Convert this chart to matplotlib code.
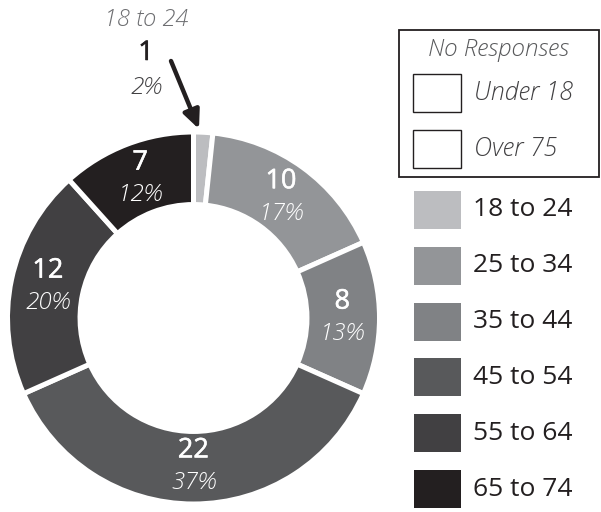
import numpy as np
import matplotlib
matplotlib.use("Agg")
import matplotlib.pyplot as plt
from matplotlib.patches import Rectangle
import matplotlib.patheffects as pe

plt.rcParams['font.family'] = ['Open Sans', 'DejaVu Sans']

categories = ["18 to 24", "25 to 34", "35 to 44", "45 to 54", "55 to 64", "65 to 74"]
counts = [1, 10, 8, 22, 12, 7]
percents = ["2%", "17%", "13%", "37%", "20%", "12%"]
no_response = ["Under 18", "Over 75"]
colors = ["#bcbdc0", "#939598", "#808285", "#58595b", "#414042", "#231f20"]

W, H = 601, 512
fig = plt.figure(figsize=(W / 100, H / 100), dpi=100)

cx, cy, R = 193.5, 318, 186
ax = fig.add_axes([(cx - R) / W, (H - cy - R) / H, 2 * R / W, 2 * R / H])
wedges, _ = ax.pie(counts, colors=colors, startangle=90, counterclock=False,
                   radius=1, wedgeprops=dict(width=0.39, edgecolor='white', linewidth=3.6))
ax.set_xlim(-1, 1)
ax.set_ylim(-1, 1)
ax.axis('off')

total = sum(counts)
cum = np.cumsum([0] + counts)
r_lab = 0.80
dy = 0.088
for i in range(1, len(counts)):
    mid = (cum[i] + cum[i + 1]) / 2 / total * 2 * np.pi
    x, y = r_lab * np.sin(mid), r_lab * np.cos(mid)
    ax.text(x, y + dy, str(counts[i]), color='white', fontsize=19.5, fontweight='normal',
            ha='center', va='center',
            path_effects=[pe.withStroke(linewidth=0.4, foreground='white')])
    ax.text(x, y - dy, percents[i], color='white', fontsize=17.5, style='italic',
            fontweight='light', ha='center', va='center')

# overlay in pixel coordinates
ov = fig.add_axes([0, 0, 1, 1], zorder=5)
ov.set_xlim(0, W)
ov.set_ylim(H, 0)
ov.axis('off')

# annotation for the tiny slice
ov.text(146, 20, categories[0], color='#6d6e71', fontsize=17, style='italic', fontweight='light',
        ha='center', va='center')
ov.text(146, 53, str(counts[0]), color='#231f20', fontsize=19.5, fontweight='normal', ha='center',
        va='center', path_effects=[pe.withStroke(linewidth=0.4, foreground='#231f20')])
ov.text(146, 88, percents[0], color='#414042', fontsize=17.5, style='italic', fontweight='light',
        ha='center', va='center')
ov.annotate('', xy=(199, 129), xytext=(171, 61),
            arrowprops=dict(arrowstyle='-|>,head_length=1.1,head_width=0.5', color='#231f20',
                            lw=3.2, shrinkA=0, shrinkB=0))

# No responses box
ov.add_patch(Rectangle((399, 30), 200, 147, fill=False, edgecolor='#231f20', lw=1.3))
ov.text(498, 50, "No Responses", color='#58595b', fontsize=17.5, style='italic', fontweight='light',
        ha='center', va='center')
for j, lab in enumerate(no_response):
    y0 = 74 + j * 56
    ov.add_patch(Rectangle((413, y0), 48, 38, fill=False, edgecolor='#231f20', lw=1.0))
    ov.text(474, y0 + 19, lab, color='#414042', fontsize=18, style='italic', fontweight='light',
            ha='left', va='center')

# legend
for i, (lab, col) in enumerate(zip(categories, colors)):
    y0 = 191 + i * 55.8
    ov.add_patch(Rectangle((414, y0), 47, 38, color=col, lw=0))
    ov.text(473, y0 + 19, lab, color='#231f20', fontsize=19, fontweight='normal',
            ha='left', va='center')

fig.savefig('out.png', dpi=100)
